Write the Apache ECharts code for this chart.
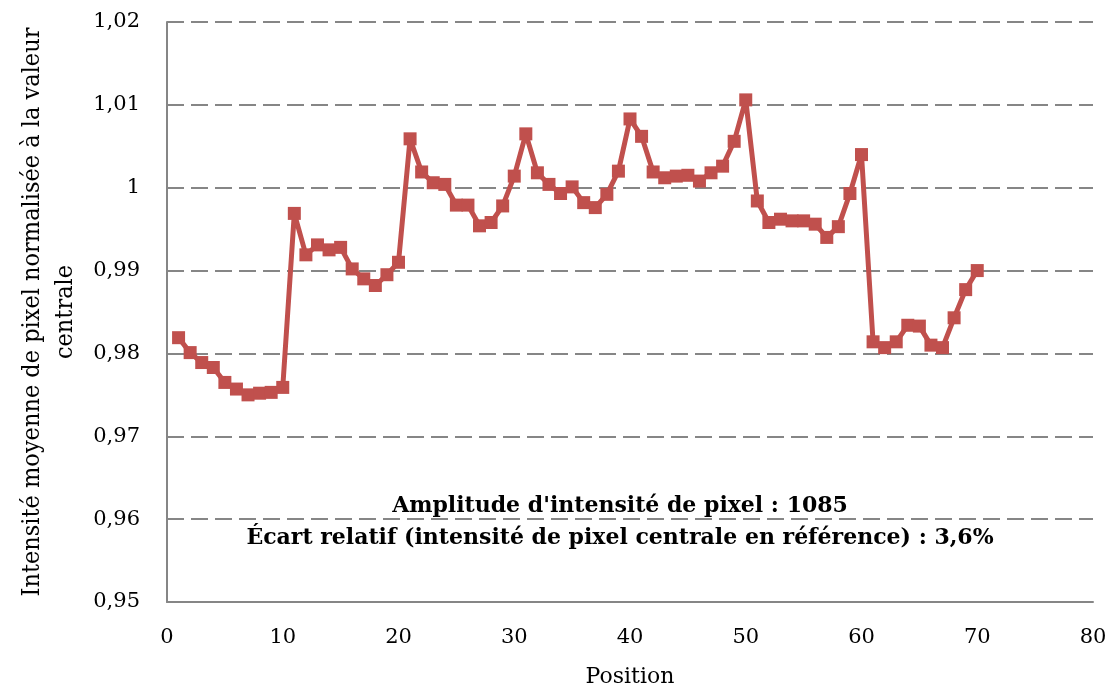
<!DOCTYPE html>
<html>
<head>
<meta charset="utf-8">
<script src="https://cdn.jsdelivr.net/npm/echarts@6/dist/echarts.min.js"></script>
<style>
  html, body { margin: 0; padding: 0; background: #fff; }
  #chart { width: 1115px; height: 690px; }
</style>
</head>
<body>
<div id="chart"></div>
<script>
// Position along the profile (1..70)
const positions = [
  1, 2, 3, 4, 5, 6, 7, 8, 9, 10,
  11, 12, 13, 14, 15, 16, 17, 18, 19, 20,
  21, 22, 23, 24, 25, 26, 27, 28, 29, 30,
  31, 32, 33, 34, 35, 36, 37, 38, 39, 40,
  41, 42, 43, 44, 45, 46, 47, 48, 49, 50,
  51, 52, 53, 54, 55, 56, 57, 58, 59, 60,
  61, 62, 63, 64, 65, 66, 67, 68, 69, 70
];

// Mean pixel intensity normalised to the central value
const intensities = [
  0.9819, 0.9801, 0.9789, 0.9783, 0.9765, 0.9757, 0.9750, 0.9752, 0.9753, 0.9759,
  0.9969, 0.9919, 0.9931, 0.9925, 0.9928, 0.9902, 0.9890, 0.9882, 0.9895, 0.9910,
  1.0059, 1.0019, 1.0006, 1.0004, 0.9979, 0.9979, 0.9954, 0.9958, 0.9978, 1.0014,
  1.0065, 1.0018, 1.0004, 0.9993, 1.0001, 0.9982, 0.9976, 0.9992, 1.0020, 1.0083,
  1.0062, 1.0019, 1.0012, 1.0014, 1.0015, 1.0008, 1.0018, 1.0026, 1.0056, 1.0106,
  0.9984, 0.9958, 0.9962, 0.9960, 0.9960, 0.9956, 0.9940, 0.9953, 0.9993, 1.0040,
  0.9814, 0.9807, 0.9814, 0.9834, 0.9833, 0.9810, 0.9807, 0.9843, 0.9877, 0.9900
];

const annotationLines = [
  "Amplitude d'intensité de pixel : 1085",
  "Écart relatif (intensité de pixel centrale en référence) : 3,6%"
];

const serif = '"DejaVu Serif", "Liberation Serif", serif';
const serifNarrow = '"DejaVu Serif Condensed", "DejaVu Serif", serif';
const axisGray = '#868686';

const chart = echarts.init(document.getElementById('chart'));

chart.setOption({
  backgroundColor: '#ffffff',
  animation: false,
  grid: { left: 167, right: 22, top: 22, bottom: 88, containLabel: false, outerBoundsMode: 'none' },
  xAxis: {
    type: 'value',
    min: 0, max: 80, interval: 10,
    name: 'Position',
    nameLocation: 'middle',
    nameGap: 64,
    nameTextStyle: { fontFamily: serif, fontSize: 22, color: '#000' },
    axisLine: { show: true, lineStyle: { color: axisGray, width: 2 } },
    axisTick: { show: false },
    splitLine: { show: false },
    axisLabel: { fontFamily: serif, fontSize: 21, color: '#000', margin: 25 }
  },
  yAxis: {
    type: 'value',
    min: 0.95, max: 1.02, interval: 0.01,
    name: 'Intensité moyenne de pixel normalisée à la valeur\ncentrale',
    nameLocation: 'middle',
    nameGap: 82,
    nameRotate: 90,
    nameTextStyle: { fontFamily: serifNarrow, fontSize: 25, color: '#000', lineHeight: 33, align: 'center' },
    axisLine: { show: true, lineStyle: { color: axisGray, width: 2 } },
    axisTick: { show: false },
    splitLine: { show: true, lineStyle: { color: axisGray, width: 2, type: [17, 7] } },
    axisLabel: {
      fontFamily: serif, fontSize: 21, color: '#000', margin: 27,
      formatter: v => {
        const r = Math.round(v * 100) / 100;
        return (r === 1 ? '1' : r.toFixed(2)).replace('.', ',');
      }
    }
  },
  series: [{
    type: 'line',
    data: positions.map((p, i) => [p, intensities[i]]),
    symbol: 'rect',
    symbolSize: 13,
    itemStyle: { color: '#C0504D' },
    lineStyle: { color: '#C0504D', width: 5 },
    z: 3
  }],
  graphic: [{
    type: 'text',
    x: 620,
    y: 522,
    z: 10,
    style: {
      text: annotationLines.join('\n'),
      align: 'center',
      verticalAlign: 'middle',
      fontFamily: serif,
      fontWeight: 'bold',
      fontSize: 22,
      lineHeight: 32,
      fill: '#000'
    }
  }]
});
</script>
</body>
</html>
